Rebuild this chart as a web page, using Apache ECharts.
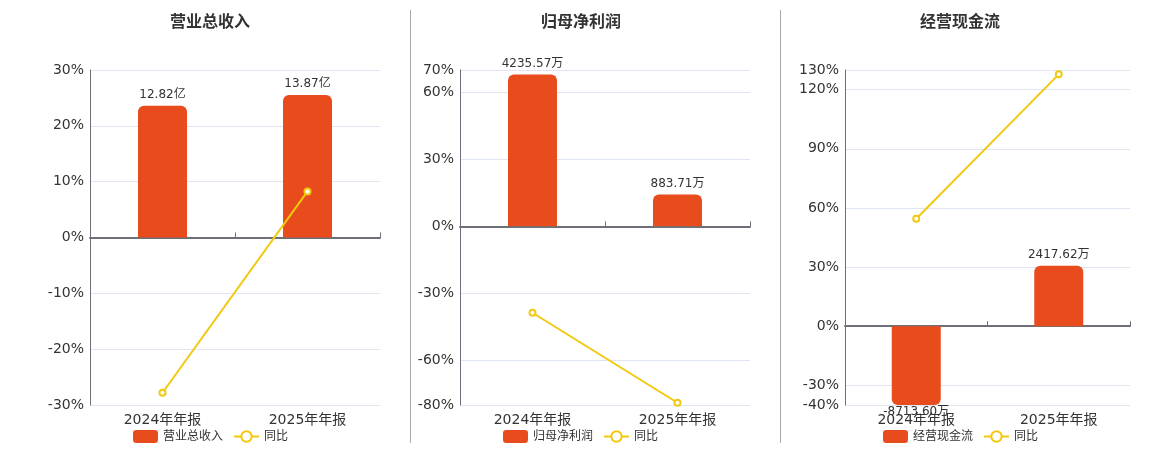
<!DOCTYPE html>
<html>
<head>
<meta charset="utf-8">
<script src="https://cdn.jsdelivr.net/npm/echarts@6/dist/echarts.min.js"></script>
<style>html,body{margin:0;padding:0;background:#fff}#c{width:1160px;height:450px}</style>
</head>
<body>
<div id="c"></div>
<script>
const categories = ['2024年年报', '2025年年报'];
const titles = ['营业总收入', '归母净利润', '经营现金流'];
const units = ['亿', '万', '万'];
const revenue = [12.82, 13.87];
const revenueYoY = [-27.8, 8.25];
const profit = [4235.57, 883.71];
const profitYoY = [-38.7, -79.0];
const cashflow = [-8713.60, 2417.62];
const cashflowYoY = [54.5, 127.8];
const pctRanges = [[-30, 30], [-80, 70], [-40, 130]];
const barRanges = [[-16.3, 16.3], [-4993, 4359], [-3155, 10252]];

const barSets = [revenue, profit, cashflow];
const yoySets = [revenueYoY, profitYoY, cashflowYoY];

const FONT = 'DejaVu Sans, Noto Sans CJK SC, sans-serif';
const BAR = '#E84B1C';
const LINE = '#F2C811';
const grids = [
  { left: 90, width: 290, top: 70, height: 335 },
  { left: 460, width: 290, top: 70, height: 335 },
  { left: 845, width: 285, top: 70, height: 335 }
];
const titleX = [205, 576, 955];
const legendX = [128, 498, 878];

const option = {
  animation: false,
  textStyle: { fontFamily: FONT },
  title: [], grid: grids, xAxis: [], yAxis: [], series: [], legend: [],
  graphic: [
    { type: 'line', shape: { x1: 410.5, y1: 10, x2: 410.5, y2: 443 }, style: { stroke: '#aaaaaa', lineWidth: 1 } },
    { type: 'line', shape: { x1: 780.5, y1: 10, x2: 780.5, y2: 443 }, style: { stroke: '#aaaaaa', lineWidth: 1 } }
  ]
};

for (let i = 0; i < 3; i++) {
  option.title.push({
    text: titles[i], left: titleX[i], top: 10, textAlign: 'center',
    textStyle: { fontSize: 16, fontWeight: 'bold', color: '#333', fontFamily: FONT }
  });
  option.xAxis.push({
    type: 'category', gridIndex: i, data: categories, position: 'bottom',
    axisLine: { show: false, onZero: false }, axisTick: { show: false },
    axisLabel: { fontSize: 14, color: '#333', margin: 8, fontFamily: FONT },
    splitLine: { show: false }
  });
  option.xAxis.push({
    type: 'category', gridIndex: i, data: categories,
    axisLine: { show: true, onZero: true, onZeroAxisIndex: i * 2, lineStyle: { color: '#6E7079', width: 2 } },
    axisTick: { show: true, length: 5, lineStyle: { color: '#6E7079' } },
    axisLabel: { show: false }, splitLine: { show: false }
  });
  option.yAxis.push({
    type: 'value', gridIndex: i, min: pctRanges[i][0], max: pctRanges[i][1],
    axisLine: { show: true, lineStyle: { color: '#6E7079', width: 1 } },
    axisTick: { show: false },
    axisLabel: { formatter: '{value}%', fontSize: 14, color: '#333', margin: 6, fontFamily: FONT },
    splitLine: { show: true, lineStyle: { color: '#E0E6F1' } }
  });
  option.yAxis.push({
    type: 'value', gridIndex: i, min: barRanges[i][0], max: barRanges[i][1], show: false,
    splitLine: { show: false }
  });
  const unit = units[i];
  option.series.push({
    name: titles[i], type: 'bar', xAxisIndex: i * 2, yAxisIndex: i * 2 + 1,
    barWidth: 49, clip: true,
    itemStyle: { color: BAR },
    label: {
      show: true, fontSize: 12, color: '#333', fontFamily: FONT,
      formatter: p => p.value.toFixed(2) + unit
    },
    data: barSets[i].map(v => ({
      value: v,
      label: { position: v < 0 ? 'bottom' : 'top', distance: v < 0 ? 1 : 5 },
      itemStyle: { borderRadius: v < 0 ? [0, 0, 6, 6] : [6, 6, 0, 0] }
    }))
  });
  option.series.push({
    name: '同比', type: 'line', xAxisIndex: i * 2, yAxisIndex: i * 2,
    symbol: 'emptyCircle', symbolSize: 6,
    lineStyle: { color: LINE, width: 2 }, itemStyle: { color: LINE, borderWidth: 2 },
    data: yoySets[i]
  });
  option.legend.push({
    left: legendX[i], top: 425, itemWidth: 25, itemHeight: 13, itemGap: 10,
    textStyle: { fontSize: 12, color: '#333', fontFamily: FONT },
    data: [titles[i], '同比']
  });
}

const chart = echarts.init(document.getElementById('c'));
chart.setOption(option);
</script>
</body>
</html>
